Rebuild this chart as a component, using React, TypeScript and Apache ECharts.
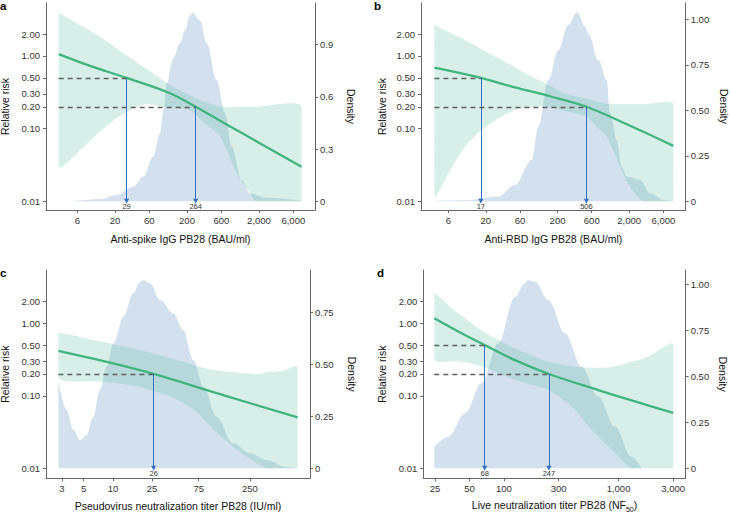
import React, { useEffect, useRef } from 'react';
import * as echarts from 'echarts';

// ---------------- data ----------------
// Panel a: anti-spike IgG (BAU/ml)
const aRiskX = [3.3, 9, 29, 116, 264, 870, 7800];
const aRiskY = [1.06, 0.73, 0.5, 0.307, 0.2, 0.102, 0.03];
const aBandX = [3.3, 7.3, 12.4, 21, 36, 55, 85, 116, 220, 300, 575, 980, 1500, 1820, 7800];
const aBandLow = [0.03, 0.0565, 0.091, 0.139, 0.19, 0.219, 0.205, 0.197, 0.181, 0.136, 0.078, 0.0244, 0.013, 0.01, 0.01];
const aBandHigh = [3.9, 2.5, 1.84, 1.27, 0.88, 0.66, 0.495, 0.4, 0.29, 0.25, 0.2, 0.2, 0.2, 0.2, 0.2];
const aDensX = [4.75, 12.4, 21.1, 36, 49.5, 68, 84.5, 94, 105, 129, 160, 188, 220, 240, 303, 376, 517, 675, 836, 1150, 1500, 2560, 7850];
const aDensY = [0, 0.0115, 0.036, 0.084, 0.142, 0.257, 0.391, 0.525, 0.678, 0.82, 0.908, 0.985, 1.07, 1.084, 1.04, 0.908, 0.697, 0.508, 0.314, 0.123, 0.046, 0.02, 0.003];
const aTicks = [6, 20, 60, 200, 600, 2000, 6000];
const aDensTicks = [0, 0.3, 0.6, 0.9];
const aThrX = [29, 264];
const aThrY = [0.5, 0.2];

// Panel b: anti-RBD IgG (BAU/ml)
const bRiskX = [3.83, 17, 51, 166, 506, 2170, 8240];
const bRiskY = [0.69, 0.5, 0.37, 0.275, 0.2, 0.107, 0.058];
const bBandX = [3.83, 6, 10.2, 17.5, 30, 51, 87, 150, 254, 506, 741, 973, 1490, 2060, 3160, 8240];
const bBandLow = [0.0116, 0.0243, 0.0565, 0.096, 0.139, 0.181, 0.199, 0.2, 0.175, 0.146, 0.101, 0.078, 0.03, 0.0159, 0.01, 0.01];
const bBandHigh = [2.67, 2.15, 1.66, 1.24, 0.93, 0.695, 0.52, 0.4, 0.307, 0.258, 0.235, 0.22, 0.217, 0.217, 0.217, 0.217];
const bDensX = [3.83, 10.3, 29.9, 51, 87, 108, 149, 205, 283, 378, 484, 538, 741, 971, 1080, 1340, 1570, 1845, 2830, 3900, 5990, 8240];
const bDensY = [0.002, 0.005, 0.026, 0.09, 0.227, 0.41, 0.667, 0.83, 0.97, 1.04, 0.96, 0.923, 0.777, 0.667, 0.484, 0.337, 0.19, 0.136, 0.117, 0.044, 0.007, 0];
const bTicks = [6, 20, 60, 200, 600, 2000, 6000];
const bDensTicks = [0, 0.25, 0.5, 0.75, 1];
const bThrX = [17, 506];
const bThrY = [0.5, 0.2];

// Panel c: pseudovirus neutralization titer (IU/ml)
const cRiskX = [2.77, 10, 26, 141, 767];
const cRiskY = [0.415, 0.28, 0.2, 0.1, 0.0505];
const cBandX = [2.77, 7.4, 17.8, 39, 67, 107, 185, 296, 370, 547, 767];
const cBandLow = [0.174, 0.157, 0.134, 0.097, 0.064, 0.034, 0.0179, 0.0117, 0.01, 0.01, 0.01];
const cBandHigh = [0.74, 0.56, 0.436, 0.329, 0.266, 0.227, 0.21, 0.2, 0.21, 0.222, 0.25];
const cDensX = [2.77, 3.37, 3.94, 4.61, 5.39, 6.3, 7.38, 8.63, 10.1, 12.8, 16.1, 18.9, 20.4, 23.9, 30.2, 41.3, 52, 66, 84, 114, 169, 250, 370, 593, 767];
const cDensY = [0.417, 0.28, 0.184, 0.136, 0.16, 0.248, 0.377, 0.489, 0.6, 0.729, 0.841, 0.897, 0.905, 0.889, 0.809, 0.745, 0.665, 0.52, 0.393, 0.248, 0.12, 0.072, 0.04, 0.005, 0];
const cTicks = [3, 5, 10, 25, 75, 250];
const cDensTicks = [0, 0.25, 0.5, 0.75];
const cThrX = [26];
const cThrY = [0.2];

// Panel d: live neutralization titer (NF50)
const dRiskX = [24.7, 39.9, 68, 125, 247, 665, 1486, 3000];
const dRiskY = [1.17, 0.77, 0.5, 0.31, 0.2, 0.12, 0.081, 0.058];
const dBandX = [24.7, 39.9, 66, 125, 244, 390, 582, 871, 1306, 1820, 3000];
const dBandLow = [0.312, 0.3, 0.252, 0.165, 0.12, 0.071, 0.034, 0.018, 0.01, 0.01, 0.01];
const dBandHigh = [2.6, 1.37, 0.77, 0.452, 0.296, 0.255, 0.243, 0.25, 0.295, 0.346, 0.513];
const dDensX = [24.7, 32.7, 45.7, 64, 89, 125, 152, 163, 187, 244, 341, 476, 665, 931, 1300, 1590];
const dDensY = [0.118, 0.172, 0.299, 0.462, 0.679, 0.933, 1.005, 1.024, 1.014, 0.915, 0.734, 0.553, 0.39, 0.226, 0.063, 0];
const dTicks = [25, 50, 100, 300, 1000, 3000];
const dDensTicks = [0, 0.25, 0.5, 0.75, 1];
const dThrX = [68, 247];
const dThrY = [0.5, 0.2];

const rrTicks = [0.01, 0.1, 0.2, 0.3, 0.5, 1, 2];
const rrFloor = 0.01;

// ---------------- panel definitions ----------------
interface PanelDef {
  letter: string;
  xName: string;
  riskX: number[]; riskY: number[];
  bandX: number[]; bandLow: number[]; bandHigh: number[];
  densX: number[]; densY: number[];
  xTicks: number[]; densTicks: number[]; densDigits: number;
  thrX: number[]; thrY: number[];
}

const PANELS: PanelDef[] = [
  { letter: 'a', xName: '{t|Anti-spike IgG PB28 (BAU/ml)}', riskX: aRiskX, riskY: aRiskY, bandX: aBandX, bandLow: aBandLow, bandHigh: aBandHigh, densX: aDensX, densY: aDensY, xTicks: aTicks, densTicks: aDensTicks, densDigits: 1, thrX: aThrX, thrY: aThrY },
  { letter: 'b', xName: '{t|Anti-RBD IgG PB28 (BAU/ml)}', riskX: bRiskX, riskY: bRiskY, bandX: bBandX, bandLow: bBandLow, bandHigh: bBandHigh, densX: bDensX, densY: bDensY, xTicks: bTicks, densTicks: bDensTicks, densDigits: 2, thrX: bThrX, thrY: bThrY },
  { letter: 'c', xName: '{t|Pseudovirus neutralization titer PB28 (IU/ml)}', riskX: cRiskX, riskY: cRiskY, bandX: cBandX, bandLow: cBandLow, bandHigh: cBandHigh, densX: cDensX, densY: cDensY, xTicks: cTicks, densTicks: cDensTicks, densDigits: 2, thrX: cThrX, thrY: cThrY },
  { letter: 'd', xName: '{t|Live neutralization titer PB28 (NF}{s|50}{t|)}', riskX: dRiskX, riskY: dRiskY, bandX: dBandX, bandLow: dBandLow, bandHigh: dBandHigh, densX: dDensX, densY: dDensY, xTicks: dTicks, densTicks: dDensTicks, densDigits: 2, thrX: dThrX, thrY: dThrY },
];

// layout: grid boxes and axis limits (in data units)
const LAYOUT = [
  { box: [46, 3, 269, 207], xLim: [2.2, 12000], rrLim: [0.0076, 5.36], dLim: [-0.05, 1.14], letter: [0, 0], leftGap: 36, rightGap: 30, xGap: 23.5 },
  { box: [421, 3, 264.7, 207], xLim: [2.49, 12270], rrLim: [0.0076, 5.36], dLim: [-0.048, 1.09], letter: [374, 0], leftGap: 34, rightGap: 33, xGap: 23.5 },
  { box: [46, 270, 264, 208.3], xLim: [2.07, 1026], rrLim: [0.00728, 5.43], dLim: [-0.048, 0.953], letter: [0, 266.5], leftGap: 35.5, rightGap: 36, xGap: 22.5 },
  { box: [423.3, 270, 262.4, 208.3], xLim: [19.8, 3855], rrLim: [0.00728, 5.43], dLim: [-0.054, 1.078], letter: [377, 266.5], leftGap: 36, rightGap: 32, xGap: 21.5 },
];

const FONT = '"Liberation Sans", Arial, Helvetica, sans-serif';
const AXIS = '#666666';
const TICKLABEL = '#333333';
const TITLE = '#111111';
const LINE = '#41b47e';
const BAND = 'rgba(102,194,165,0.26)';
const DENS = 'rgba(110,155,198,0.30)';
const ARROW = '#3470c4';
const DASH = '#5f5f5f';

const lg = (v: number) => Math.log10(v);

function buildOption() {
  const grid: any[] = [];
  const xAxis: any[] = [];
  const yAxis: any[] = [];
  const series: any[] = [];
  const graphic: any[] = [];

  PANELS.forEach((p, i) => {
    const L = LAYOUT[i];
    grid.push({
      left: L.box[0], top: L.box[1], width: L.box[2], height: L.box[3],
      containLabel: false, outerBoundsMode: 'none',
    });
    const xt = p.xTicks.map(lg);
    xAxis.push({
      type: 'value', gridIndex: i, position: 'bottom',
      min: lg(L.xLim[0]), max: lg(L.xLim[1]),
      axisLine: { show: true, onZero: false, lineStyle: { color: AXIS, width: 1 } },
      axisTick: { show: true, length: 3, customValues: xt, lineStyle: { color: AXIS, width: 1 } },
      axisLabel: {
        customValues: xt, margin: 5, fontSize: 9.5, color: TICKLABEL, fontFamily: FONT,
        formatter: (v: number) => Math.round(Math.pow(10, v)).toLocaleString('en-US'),
      },
      splitLine: { show: false },
      name: p.xName, nameLocation: 'middle', nameGap: L.xGap,
      nameTextStyle: {
        fontSize: 10.5, color: TITLE, fontFamily: FONT,
        rich: {
          t: { fontSize: 10.5, color: TITLE, fontFamily: FONT, lineHeight: 11, verticalAlign: 'top' },
          s: { fontSize: 7, color: TITLE, fontFamily: FONT, lineHeight: 13, verticalAlign: 'bottom' },
        },
      },
    });
    const yt = rrTicks.map(lg);
    yAxis.push({
      type: 'value', gridIndex: i, position: 'left',
      min: lg(L.rrLim[0]), max: lg(L.rrLim[1]),
      axisLine: { show: true, onZero: false, lineStyle: { color: AXIS, width: 1 } },
      axisTick: { show: true, length: 3, customValues: yt, lineStyle: { color: AXIS, width: 1 } },
      axisLabel: {
        customValues: yt, margin: 6, fontSize: 9.5, color: TICKLABEL, fontFamily: FONT,
        formatter: (v: number) => Math.pow(10, v).toFixed(2),
      },
      splitLine: { show: false },
      name: 'Relative risk', nameLocation: 'middle', nameGap: L.leftGap, nameRotate: 90,
      nameTextStyle: { fontSize: 10.5, color: TITLE, fontFamily: FONT },
    });
    yAxis.push({
      type: 'value', gridIndex: i, position: 'right',
      min: L.dLim[0], max: L.dLim[1],
      axisLine: { show: true, onZero: false, lineStyle: { color: AXIS, width: 1 } },
      axisTick: { show: true, length: 3, customValues: p.densTicks, lineStyle: { color: AXIS, width: 1 } },
      axisLabel: {
        customValues: p.densTicks, margin: 5, fontSize: 9.5, color: TICKLABEL, fontFamily: FONT,
        formatter: (v: number) => (v === 0 ? '0' : v.toFixed(p.densDigits)),
      },
      splitLine: { show: false },
      name: 'Density', nameLocation: 'middle', nameGap: L.rightGap, nameRotate: -90,
      nameTextStyle: { fontSize: 10.5, color: TITLE, fontFamily: FONT },
    });

    // density area (right axis)
    series.push({
      type: 'line', xAxisIndex: i, yAxisIndex: 2 * i + 1,
      data: p.densX.map((x, k) => [lg(x), p.densY[k]]),
      symbol: 'none', smooth: 0.35, smoothMonotone: 'x',
      lineStyle: { width: 0, opacity: 0 },
      areaStyle: { color: DENS, opacity: 1 },
      silent: true, z: 1,
    });

    // confidence band (left axis) as polygon through axis coords
    series.push({
      type: 'custom', xAxisIndex: i, yAxisIndex: 2 * i, coordinateSystem: 'cartesian2d',
      data: p.bandX.map((x, k) => [lg(x), lg(p.bandLow[k]), lg(p.bandHigh[k])]),
      encode: { x: 0, y: [1, 2] },
      silent: true, z: 2,
      renderItem: (params: any, api: any) => {
        if (params.dataIndexInside !== 0) return null;
        const n = params.dataInsideLength;
        const up: number[][] = [];
        const lo: number[][] = [];
        for (let k = 0; k < n; k++) {
          const x = api.value(0, k);
          lo.push(api.coord([x, api.value(1, k)]));
          up.push(api.coord([x, api.value(2, k)]));
        }
        const pts = up.concat(lo.reverse());
        let minX = Infinity, minY = Infinity, maxX = -Infinity, maxY = -Infinity;
        pts.forEach((q) => {
          minX = Math.min(minX, q[0]); maxX = Math.max(maxX, q[0]);
          minY = Math.min(minY, q[1]); maxY = Math.max(maxY, q[1]);
        });
        return {
          type: 'polygon',
          shape: { points: pts, smooth: 0.25, smoothConstraint: [[minX, minY], [maxX, maxY]] },
          style: { fill: BAND, stroke: 'none' },
        };
      },
    });

    // guide lines
    const ml: any[] = [];
    p.thrX.forEach((tx, k) => {
      const ty = p.thrY[k];
      ml.push([
        { coord: [lg(p.bandX[0]), lg(ty)], symbol: 'none', lineStyle: { type: [5, 4], color: DASH, width: 1.3 }, label: { show: false } },
        { coord: [lg(tx), lg(ty)], symbol: 'none' },
      ]);
      ml.push([
        {
          coord: [lg(tx), lg(ty)], symbol: 'none',
          lineStyle: { type: 'solid', color: ARROW, width: 1 },
          label: { show: true, position: 'end', formatter: String(tx), fontSize: 7.5, color: '#333', fontFamily: FONT, distance: 1 },
        },
        { coord: [lg(tx), lg(rrFloor)], symbol: 'triangle', symbolSize: [5, 5] },
      ]);
    });

    // relative risk line
    series.push({
      type: 'line', xAxisIndex: i, yAxisIndex: 2 * i,
      data: p.riskX.map((x, k) => [lg(x), lg(p.riskY[k])]),
      symbol: 'none', smooth: 0.35,
      lineStyle: { color: LINE, width: 2.3 },
      z: 3,
      markLine: { silent: true, symbol: ['none', 'none'], animation: false, data: ml },
    });

    graphic.push({
      type: 'text', left: L.letter[0], top: L.letter[1],
      style: { text: p.letter, fontSize: 11.5, fontWeight: 'bold', fontFamily: FONT, fill: '#000' },
    });
  });

  return {
    animation: false,
    backgroundColor: '#ffffff',
    textStyle: { fontFamily: FONT },
    grid, xAxis, yAxis, series, graphic,
  };
}

export default function App() {
  const ref = useRef<HTMLDivElement>(null);
  useEffect(() => {
    if (!ref.current) return;
    const chart = echarts.init(ref.current, undefined, { renderer: 'svg' });
    chart.setOption(buildOption() as any);
    return () => chart.dispose();
  }, []);
  return (
    <div
      ref={ref}
      style={{ position: 'absolute', left: 0, top: 0, width: 730, height: 513, background: '#fff' }}
    />
  );
}
